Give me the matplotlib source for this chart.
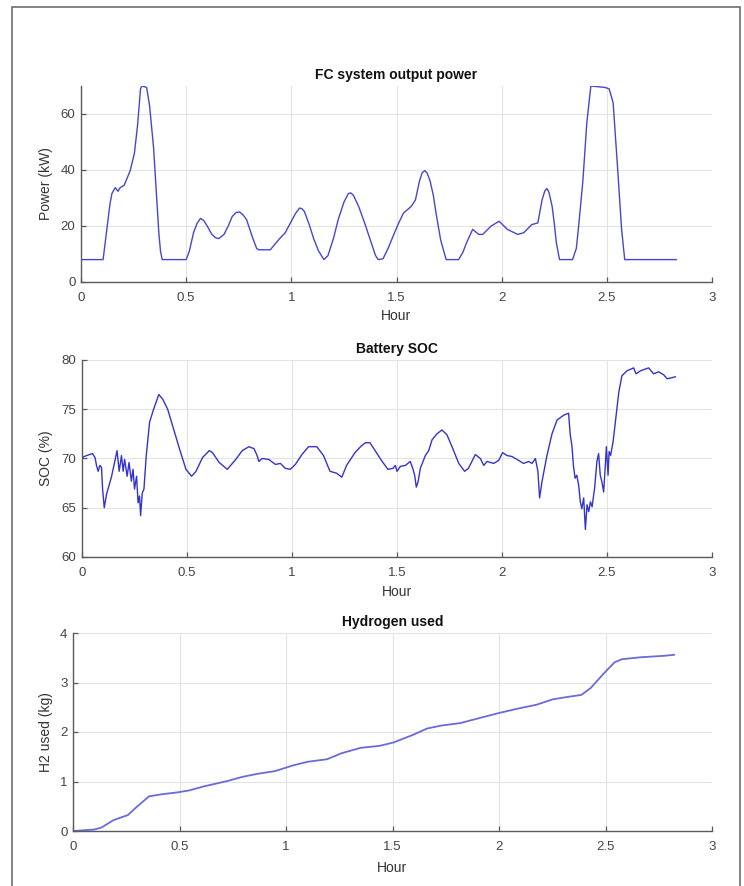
import matplotlib
matplotlib.use("Agg")
import matplotlib.pyplot as plt
from matplotlib.patches import Rectangle

plt.rcParams['font.family'] = ['Liberation Sans', 'DejaVu Sans']

# FC system output power (kW) vs hour
power_h = [0, 0.105, 0.115, 0.128, 0.138, 0.147, 0.163, 0.176, 0.186, 0.205, 0.221,
           0.234, 0.254, 0.269, 0.283, 0.29, 0.312, 0.326, 0.345, 0.37, 0.378, 0.386,
           0.5, 0.515, 0.535, 0.552, 0.568, 0.583, 0.6, 0.622, 0.64, 0.655, 0.68,
           0.7, 0.719, 0.737, 0.754, 0.77, 0.787, 0.815, 0.835, 0.845, 0.9, 0.942,
           0.971, 1.0, 1.02, 1.039, 1.05, 1.062, 1.085, 1.107, 1.13, 1.155, 1.174,
           1.2, 1.223, 1.25, 1.271, 1.283, 1.295, 1.32, 1.349, 1.38, 1.4, 1.413,
           1.436, 1.46, 1.484, 1.51, 1.533, 1.57, 1.59, 1.61, 1.622, 1.634, 1.645,
           1.659, 1.675, 1.688, 1.71, 1.736, 1.795, 1.815, 1.833, 1.862, 1.891,
           1.91, 1.95, 1.988, 2.027, 2.076, 2.105, 2.143, 2.172, 2.192, 2.205,
           2.215, 2.225, 2.24, 2.25, 2.26, 2.275, 2.337, 2.355, 2.366, 2.386,
           2.405, 2.424, 2.49, 2.511, 2.53, 2.55, 2.57, 2.585, 2.83]
power_kw = [8, 8, 14, 22, 28, 31.6, 33.7, 32.4, 33.7, 34.5, 37.4,
            39.8, 46, 56, 69, 70, 69.5, 63, 48, 17.6, 11, 8,
            8, 11, 17.6, 21, 22.7, 22, 20, 17, 15.8, 15.5, 17,
            20, 23.4, 24.8, 25, 24, 22.3, 16, 12, 11.5, 11.5, 15.3,
            17.6, 21.7, 24.5, 26.4, 26.2, 25.2, 20.5, 15.3, 11, 8, 9.4,
            15.5, 22.3, 28.5, 31.6, 31.8, 31, 27, 21, 14, 9.5, 8,
            8.3, 12, 16.4, 21, 24.6, 27, 29.3, 36.3, 39, 39.8, 39,
            36.3, 31, 24.6, 15, 8, 8, 10.5, 14, 18.8, 17,
            17, 20, 21.7, 18.8, 17, 17.6, 20.5, 21.1, 29.3, 32.5,
            33.4, 32, 27, 21, 14, 8, 8, 12, 20, 36,
            57, 70, 69.5, 69, 64, 42, 19, 8, 8]

# Battery SOC (%) vs hour
soc_h = [0, 0.022, 0.05, 0.062, 0.069, 0.077, 0.085, 0.093, 0.098, 0.106, 0.117,
         0.14, 0.167, 0.177, 0.188, 0.196, 0.203, 0.215, 0.224, 0.235, 0.243,
         0.25, 0.26, 0.267, 0.274, 0.279, 0.287, 0.295, 0.306, 0.322, 0.341,
         0.366, 0.385, 0.408, 0.432, 0.464, 0.495, 0.522, 0.543, 0.574, 0.606,
         0.621, 0.653, 0.692, 0.732, 0.763, 0.795, 0.819, 0.834, 0.842, 0.858,
         0.89, 0.921, 0.945, 0.968, 0.992, 1.016, 1.047, 1.079, 1.118, 1.15,
         1.181, 1.213, 1.237, 1.26, 1.3, 1.331, 1.35, 1.371, 1.402, 1.426,
         1.457, 1.481, 1.492, 1.5, 1.516, 1.54, 1.563, 1.575, 1.584, 1.592,
         1.6, 1.611, 1.635, 1.651, 1.667, 1.69, 1.714, 1.738, 1.762, 1.794,
         1.822, 1.84, 1.873, 1.897, 1.913, 1.929, 1.96, 1.984, 2.003, 2.024,
         2.048, 2.079, 2.103, 2.127, 2.143, 2.159, 2.171, 2.179, 2.19, 2.214,
         2.238, 2.262, 2.294, 2.317, 2.325, 2.333, 2.34, 2.348, 2.356, 2.365,
         2.373, 2.38, 2.389, 2.397, 2.405, 2.413, 2.421, 2.429, 2.441, 2.452,
         2.46, 2.468, 2.476, 2.484, 2.492, 2.497, 2.505, 2.51, 2.517, 2.529,
         2.54, 2.556, 2.571, 2.595, 2.627, 2.638, 2.659, 2.698, 2.722, 2.746,
         2.77, 2.786, 2.81, 2.825]
soc_pct = [70.1, 70.3, 70.5, 70.1, 69.3, 68.7, 69.3, 69.1, 66.9, 65.0, 66.4,
           68.1, 70.8, 68.7, 70.3, 68.7, 69.9, 68.2, 69.6, 67.7, 68.9,
           66.9, 68.2, 65.5, 66.2, 64.2, 66.5, 66.9, 70.3, 73.7, 75.0,
           76.5, 76.0, 75.0, 73.3, 71.0, 68.9, 68.2, 68.7, 70.1, 70.8,
           70.6, 69.6, 68.9, 69.9, 70.8, 71.2, 71.0, 70.3, 69.7, 70.0,
           69.9, 69.4, 69.5, 69.0, 68.9, 69.4, 70.4, 71.2, 71.2, 70.3,
           68.7, 68.5, 68.1, 69.3, 70.6, 71.3, 71.6, 71.6, 70.6, 69.8,
           68.9, 69.0, 69.3, 68.7, 69.2, 69.3, 69.7, 69.0, 68.3, 67.1,
           67.6, 69.0, 70.3, 70.8, 71.9, 72.5, 72.9, 72.4, 71.2, 69.5,
           68.7, 69.0, 70.4, 70.0, 69.3, 69.7, 69.5, 69.8, 70.6, 70.3,
           70.2, 69.8, 69.5, 69.7, 69.5, 70.0, 68.7, 66.0, 67.6, 70.3,
           72.5, 73.9, 74.4, 74.6, 72.4, 71.3, 69.3, 68.0, 68.3, 67.3,
           65.6, 64.9, 66.0, 62.8, 65.3, 64.6, 65.6, 65.1, 67.0, 69.7,
           70.5, 68.3, 67.6, 66.6, 69.3, 71.2, 68.3, 70.7, 70.3, 71.7,
           73.7, 76.7, 78.4, 78.9, 79.2, 78.6, 78.9, 79.2, 78.6, 78.8,
           78.5, 78.1, 78.2, 78.3]

# Hydrogen used (kg) vs hour
h2_h = [0, 0.1, 0.134, 0.19, 0.257, 0.3, 0.357, 0.413, 0.49, 0.546, 0.613, 0.725,
        0.792, 0.859, 0.948, 1.037, 1.104, 1.193, 1.26, 1.35, 1.439, 1.506, 1.595,
        1.662, 1.729, 1.818, 1.907, 1.996, 2.086, 2.175, 2.253, 2.309, 2.387, 2.431,
        2.487, 2.543, 2.577, 2.666, 2.778, 2.822]
h2_kg = [0, 0.03, 0.07, 0.22, 0.32, 0.49, 0.7, 0.74, 0.78, 0.82, 0.9, 1.01,
         1.09, 1.15, 1.21, 1.33, 1.4, 1.45, 1.57, 1.68, 1.72, 1.79, 1.94,
         2.07, 2.13, 2.18, 2.28, 2.38, 2.47, 2.55, 2.66, 2.7, 2.75, 2.89,
         3.16, 3.41, 3.47, 3.51, 3.54, 3.56]

hour_ticks = [0, 0.5, 1, 1.5, 2, 2.5, 3]
hour_labels = ['0', '0.5', '1', '1.5', '2', '2.5', '3']

W, H = 744, 886
fig = plt.figure(figsize=(W / 100, H / 100), dpi=100)

# thin frame round the figure
fig.patches.append(Rectangle((12 / W, -0.02), 728 / W, 1.02 - 7 / H,
                             transform=fig.transFigure, fill=False,
                             edgecolor='#6e6e6e', linewidth=1.2))


def style(ax, title, ylabel, yticks, ylim, ylab_x, xlab_y):
    ax.set_xlim(0, 3)
    ax.set_ylim(*ylim)
    ax.set_xticks(hour_ticks)
    ax.set_xticklabels(hour_labels)
    ax.set_yticks(yticks)
    ax.grid(True, color='#e3e3e3', linewidth=0.8)
    ax.set_axisbelow(True)
    for s in ['top', 'right']:
        ax.spines[s].set_visible(False)
    for s in ['left', 'bottom']:
        ax.spines[s].set_color('#5a5a5a')
        ax.spines[s].set_linewidth(1.0)
    ax.tick_params(direction='in', length=3.5, width=0.9, colors='#5a5a5a',
                   labelsize=9.5, labelcolor='#444444')
    ax.tick_params(axis='x', pad=7)
    ax.tick_params(axis='y', pad=4)
    ax.set_title(title, fontsize=10, fontweight='bold', color='#111111', pad=5)
    ax.set_xlabel('Hour', fontsize=10, color='#333333')
    ax.set_ylabel(ylabel, fontsize=10, color='#333333')
    ax.yaxis.set_label_coords(ylab_x, 0.5)
    ax.xaxis.set_label_coords(0.5, xlab_y)


ax1 = fig.add_axes([81 / W, 1 - 282 / H, 631 / W, 196 / H])
ax1.plot(power_h, power_kw, color='#4646d2', linewidth=1.0)
style(ax1, 'FC system output power', 'Power (kW)', [0, 20, 40, 60], (0, 70), -0.044, -0.14)

ax2 = fig.add_axes([82 / W, 1 - 557 / H, 630 / W, 197 / H])
ax2.plot(soc_h, soc_pct, color='#3434cc', linewidth=1.0)
style(ax2, 'Battery SOC', 'SOC (%)', [60, 65, 70, 75, 80], (60, 80), -0.046, -0.14)

ax3 = fig.add_axes([73 / W, 1 - 831 / H, 639 / W, 198 / H])
ax3.plot(h2_h, h2_kg, color='#6a6ad8', linewidth=1.3)
style(ax3, 'Hydrogen used', 'H2 used (kg)', [0, 1, 2, 3, 4], (0, 4), -0.031, -0.15)

fig.savefig('out.png', dpi=100)
